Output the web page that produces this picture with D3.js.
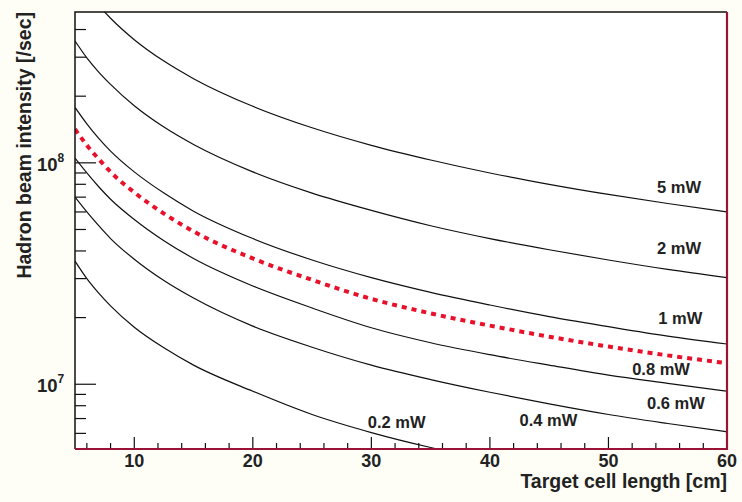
<!DOCTYPE html>
<html>
<head>
<meta charset="utf-8">
<script src="https://cdn.jsdelivr.net/npm/d3@7"></script>
<style>
  body { margin: 0; background: #fefef6; }
  svg { display: block; font-family: "Liberation Sans", Arial, sans-serif; font-weight: bold; }
</style>
</head>
<body>
<div id="plot"></div>
<script>
// target cell length [cm]
var lengths = [5, 6, 7, 8, 10, 12.5, 15, 20, 25, 30, 35, 40, 45, 50, 55, 60];

// beam intensity in units of 1e6 /sec
var p5mW  = [720, 600, 514, 450, 360, 288, 240, 180, 144, 120, 103, 90, 80, 72, 65.5, 60];
var p2mW  = [355, 298, 257, 226, 181, 145, 121, 91, 73, 61, 52, 45.5, 40.5, 36.4, 33, 30.3];
var p1mW  = [178, 150, 129, 113, 91, 73, 60.5, 45.5, 36.4, 30.3, 26, 22.8, 20.2, 18.2, 16.5, 15.2];
var p08mW = [142, 120, 104, 91, 73.5, 59, 49, 37, 29.6, 24.3, 20.9, 18.4, 16.4, 14.8, 13.5, 12.45];
var p06mW = [105, 90, 78, 68.5, 55.5, 44.5, 37, 27.8, 22.1, 18.0, 15.4, 13.6, 12.2, 11.0, 10.1, 9.3];
var p04mW = [70, 60, 52, 45.5, 36.7, 29.4, 24.5, 18.3, 14.7, 12.2, 10.5, 9.2, 8.15, 7.3, 6.65, 6.1];
var p02mW = [36, 30, 25.8, 22.6, 18.1, 14.6, 12.2, 9.3, 7.3, 6.05, 5.18, 4.55];

var blackCurves = [p5mW, p2mW, p1mW, p06mW, p04mW, p02mW];
var redCurve = p08mW;

// curve labels: text, anchor length [cm], anchor intensity (1e6 /sec)
var labelText = ["5 mW", "2 mW", "1 mW", "0.8 mW", "0.6 mW", "0.4 mW", "0.2 mW"];
var labelX    = [54.1, 54.1, 54.2, 52.0, 53.25, 42.5, 29.7];
var labelY    = [73, 38.7, 18.7, 11.0, 7.7, 6.46, 6.33];

var xMajor = [10, 20, 30, 40, 50, 60];
var xMinor = d3.range(6, 60, 2);
var yMajor = [1e7, 1e8];
var yExp = ["7", "8"];
var yMinor = [6e6, 7e6, 8e6, 9e6, 2e7, 3e7, 4e7, 5e7, 6e7, 7e7, 8e7, 9e7, 2e8, 3e8, 4e8];

var width = 742, height = 502;
var margin = { top: 12, left: 75, right: 15, bottom: 53 };

var svg = d3.select("#plot").append("svg")
		.attr("width", width).attr("height", height);

var x = d3.scaleLinear().domain([5, 60])
		.range([margin.left, width - margin.right]);
var y = d3.scaleLog().domain([5.1e6, 4.8e8])
		.range([height - margin.bottom, margin.top]);

var x0 = x.range()[0], x1 = x.range()[1];
var yb = y.range()[0], yt = y.range()[1];

svg.append("rect").attr("x", x0).attr("y", yt)
		.attr("width", x1 - x0).attr("height", yb - yt)
		.attr("fill", "#fff");

svg.append("clipPath").attr("id", "clip").append("rect")
		.attr("x", x0).attr("y", yt)
		.attr("width", x1 - x0).attr("height", yb - yt);

var line = d3.line()
		.x(function(d) { return x(d[0]); })
		.y(function(d) { return y(d[1] * 1e6); })
		.curve(d3.curveMonotoneX);

function pairs(vals) {
	return vals.map(function(v, i) { return [lengths[i], v]; });
}

var curves = svg.append("g").attr("clip-path", "url(#clip)");

curves.selectAll(".black")
		.data(blackCurves)
		.enter().append("path")
		.attr("class", "black")
		.attr("d", function(d) { return line(pairs(d)); })
		.attr("fill", "none")
		.attr("stroke", "#111")
		.attr("stroke-width", 1.2);

curves.append("path")
		.attr("d", line(pairs(redCurve)))
		.attr("fill", "none")
		.attr("stroke", "#e8102a")
		.attr("stroke-width", 4)
		.attr("stroke-dasharray", "5,5");

// ticks (drawn inward)
var ticks = svg.append("g").attr("stroke", "#111").attr("stroke-width", 1.2);

xMajor.forEach(function(v) {
	ticks.append("line").attr("x1", x(v)).attr("x2", x(v))
			.attr("y1", yb).attr("y2", yb - 12);
});
xMinor.forEach(function(v) {
	if (v % 10 === 0) return;
	ticks.append("line").attr("x1", x(v)).attr("x2", x(v))
			.attr("y1", yb).attr("y2", yb - 6);
});
yMajor.forEach(function(v) {
	ticks.append("line").attr("x1", x0).attr("x2", x0 + 21)
			.attr("y1", y(v)).attr("y2", y(v));
});
yMinor.forEach(function(v) {
	ticks.append("line").attr("x1", x0).attr("x2", x0 + 11)
			.attr("y1", y(v)).attr("y2", y(v));
});

// frame
svg.append("path")
		.attr("d", "M" + x0 + "," + yb + "V" + yt + "H" + x1)
		.attr("fill", "none").attr("stroke", "#111").attr("stroke-width", 1.5);
svg.append("path")
		.attr("d", "M" + x0 + "," + yb + "H" + x1 + "V" + yt)
		.attr("fill", "none").attr("stroke", "#9a1236").attr("stroke-width", 2.2);

// tick labels
svg.selectAll(".xlab")
		.data(xMajor)
		.enter().append("text")
		.attr("class", "xlab")
		.attr("x", function(d) { return x(d); })
		.attr("y", yb + 18)
		.attr("text-anchor", "middle")
		.attr("font-size", 18)
		.attr("fill", "#222")
		.text(function(d) { return d; });

yMajor.forEach(function(v, i) {
	var t = svg.append("text")
			.attr("x", 37).attr("y", y(v) + 8)
			.attr("font-size", 18.5).attr("fill", "#222");
	t.append("tspan").text("10");
	t.append("tspan").attr("dy", -9).attr("font-size", 12).text(yExp[i]);
});

// axis titles
svg.append("text")
		.attr("x", x1).attr("y", 488)
		.attr("text-anchor", "end")
		.attr("font-size", 19.5).attr("fill", "#222")
		.text("Target cell length [cm]");

svg.append("text")
		.attr("transform", "translate(31," + yt + ") rotate(-90)")
		.attr("text-anchor", "end")
		.attr("font-size", 19.5).attr("fill", "#222")
		.text("Hadron beam intensity [/sec]");

// curve labels
svg.selectAll(".clab")
		.data(labelText)
		.enter().append("text")
		.attr("class", "clab")
		.attr("x", function(d, i) { return x(labelX[i]); })
		.attr("y", function(d, i) { return y(labelY[i] * 1e6); })
		.attr("font-size", 16.5)
		.attr("fill", "#222")
		.text(function(d) { return d; });
</script>
</body>
</html>
